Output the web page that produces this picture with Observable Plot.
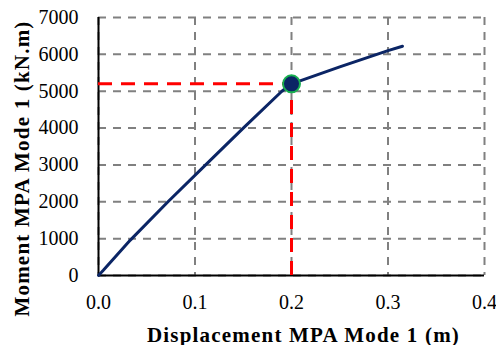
<!DOCTYPE html>
<html>
<head>
<meta charset="utf-8">
<script src="https://cdn.jsdelivr.net/npm/d3@7"></script>
<script src="https://cdn.jsdelivr.net/npm/@observablehq/plot@0.6"></script>
<style>
  html, body { margin: 0; padding: 0; background: #fff; }
  #chart svg { display: block; }
  #chart svg, #chart svg text { font-family: "Liberation Serif", "Times New Roman", serif !important; }
  #chart svg g[aria-label="text"] text { letter-spacing: 1.2px; }
</style>
</head>
<body>
<div id="chart"></div>
<script>
// Data
const displacement = [0, 0.005, 0.033, 0.072, 0.111, 0.15, 0.19, 0.2, 0.25, 0.3, 0.315];
const moment       = [0, 140, 960, 2000, 3000, 4000, 5000, 5200, 5660, 6100, 6220];
const yieldDisp = [0.2];
const yieldMoment = [5200];
const xTicks = [0, 0.1, 0.2, 0.3, 0.4];
const yTicks = [0, 1000, 2000, 3000, 4000, 5000, 6000, 7000];
const xTitle = "Displacement MPA Mode 1 (m)";
const yTitle = "Moment MPA Mode 1 (kN.m)";

const curve = displacement.map((d, i) => ({d, m: moment[i]}));
const yieldPt = yieldDisp.map((d, i) => ({d, m: yieldMoment[i]}));

const font = "Liberation Serif";

const chart = Plot.plot({
  width: 496,
  height: 345,
  marginLeft: 98,
  marginRight: 12,
  marginTop: 17,
  marginBottom: 70,
  style: {fontFamily: font, background: "#fff", color: "#000"},
  x: {domain: [0, 0.4]},
  y: {domain: [0, 7000]},
  marks: [
    Plot.gridX(xTicks, {stroke: "#808080", strokeOpacity: 1, strokeWidth: 2, strokeDasharray: "8,7"}),
    Plot.gridY(yTicks, {stroke: "#808080", strokeOpacity: 1, strokeWidth: 2, strokeDasharray: "8,7"}),
    Plot.ruleX([0], {stroke: "#000", strokeWidth: 2}),
    Plot.ruleY([0], {stroke: "#000", strokeWidth: 2}),
    Plot.axisX(xTicks, {tickSize: 0, tickPadding: 19, fontSize: 20, fontFamily: font, tickFormat: d3.format(".1f"), label: null}),
    Plot.axisY(yTicks, {tickSize: 0, tickPadding: 20, fontSize: 20, fontFamily: font, tickFormat: d => String(d), label: null}),
    Plot.ruleY(yieldPt, {y: "m", x1: 0, x2: "d", stroke: "#ff0000", strokeWidth: 3, strokeDasharray: "14,9"}),
    Plot.ruleX(yieldPt, {x: "d", y1: 0, y2: "m", stroke: "#ff0000", strokeWidth: 3, strokeDasharray: "14,9"}),
    Plot.line(curve, {x: "d", y: "m", stroke: "#0b2565", strokeWidth: 3}),
    Plot.dot(yieldPt, {x: "d", y: "m", r: 8.5, fill: "#0b2565", stroke: "#18b050", strokeWidth: 2}),
    Plot.text([xTitle], {frameAnchor: "bottom", dx: 12, dy: 66, fontSize: 21, fontWeight: "bold", fontFamily: font, fill: "#000"}),
    Plot.text([yTitle], {frameAnchor: "left", textAnchor: "middle", rotate: -90, dx: -76, dy: 22, fontSize: 21, fontWeight: "bold", fontFamily: font, fill: "#000"})
  ]
});
document.getElementById("chart").appendChild(chart);
</script>
</body>
</html>
